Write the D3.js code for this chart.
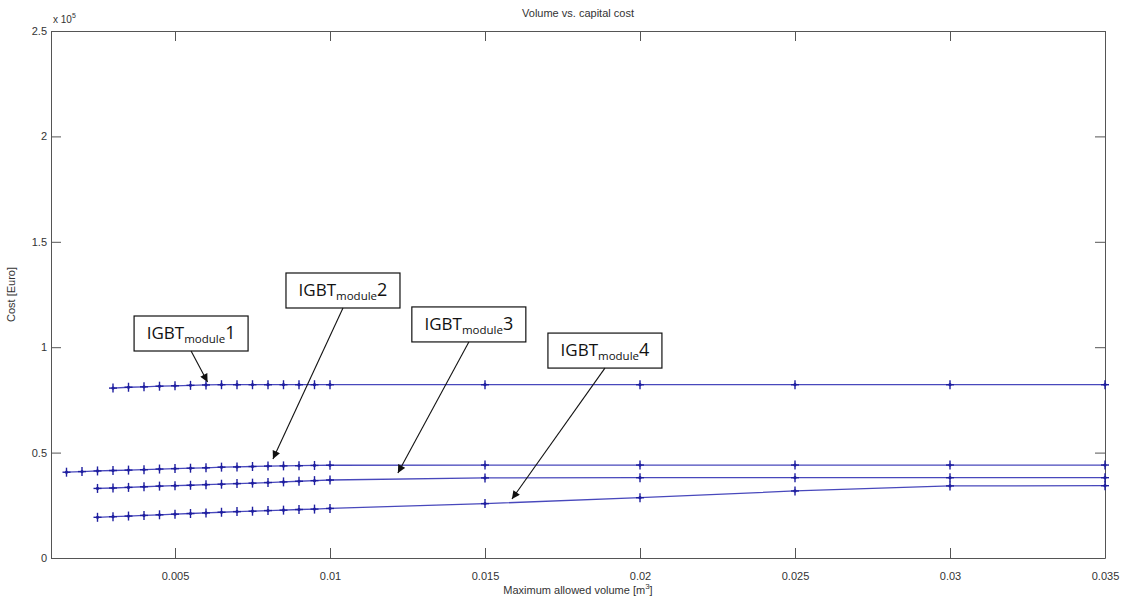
<!DOCTYPE html>
<html>
<head>
<meta charset="utf-8">
<script src="https://cdn.jsdelivr.net/npm/d3@7"></script>
<style>
  body { margin: 0; background: #fff; }
  svg { display: block; }
  .axis text { font-family: "Liberation Sans", Arial, sans-serif; font-size: 11px; fill: #333; }
  .axis path, .axis line { stroke: #555; }
</style>
</head>
<body>
<div id="chart"></div>
<script>
// volumes [m^3]
var volIGBT1 = [0.003,0.0035,0.004,0.0045,0.005,0.0055,0.006,0.0065,0.007,0.0075,0.008,0.0085,0.009,0.0095,0.01,0.015,0.02,0.025,0.03,0.035];
var volIGBT2 = [0.0015,0.002,0.0025,0.003,0.0035,0.004,0.0045,0.005,0.0055,0.006,0.0065,0.007,0.0075,0.008,0.0085,0.009,0.0095,0.01,0.015,0.02,0.025,0.03,0.035];
var volIGBT3 = [0.0025,0.003,0.0035,0.004,0.0045,0.005,0.0055,0.006,0.0065,0.007,0.0075,0.008,0.0085,0.009,0.0095,0.01,0.015,0.02,0.025,0.03,0.035];
var volIGBT4 = [0.0025,0.003,0.0035,0.004,0.0045,0.005,0.0055,0.006,0.0065,0.007,0.0075,0.008,0.0085,0.009,0.0095,0.01,0.015,0.02,0.025,0.03,0.035];

// cost [Euro]
var costIGBT1 = [80600,81000,81200,81500,81700,81900,82100,82200,82200,82200,82200,82200,82200,82200,82200,82200,82200,82200,82200,82200];
var costIGBT2 = [40700,41000,41300,41500,41700,41900,42200,42400,42600,42800,43100,43200,43400,43600,43700,43800,43900,44000,44100,44100,44100,44100,44100];
var costIGBT3 = [33000,33200,33500,33800,34100,34300,34500,34800,35000,35300,35500,35800,36100,36400,36700,37000,38000,38100,38100,38100,38100];
var costIGBT4 = [19300,19600,19900,20200,20500,20800,21100,21400,21700,22000,22200,22500,22700,23000,23200,23500,25800,28600,31800,34200,34300];

// annotation: [label number, box left (vol), box top (cost), arrow tip (vol), arrow tip (cost)]
var notes = [
  ["1", 0.00368, 114800, 0.00605, 83500],
  ["2", 0.00858, 135200, 0.00816, 47000],
  ["3", 0.01264, 119100, 0.01219, 40300],
  ["4", 0.01703, 106700, 0.01587, 28000]
];

var yTicks = [0, 50000, 100000, 150000, 200000, 250000];
var xTicks = [0.005, 0.01, 0.015, 0.02, 0.025, 0.03, 0.035];

var width = 1122, height = 601;
var margin = {top: 31, right: 17, bottom: 43, left: 51};

var svg = d3.select("#chart").append("svg")
  .attr("width", width).attr("height", height);

var x = d3.scaleLinear().domain([0.001, 0.035]).range([margin.left, width - margin.right]);
var y = d3.scaleLinear().domain([0, 250000]).range([height - margin.bottom, margin.top]);

var tickLen = 10;

// axes: box with inward ticks
svg.append("g").attr("class", "axis")
  .attr("transform", "translate(0," + y(0) + ")")
  .call(d3.axisBottom(x).tickValues(xTicks).tickSizeInner(-tickLen).tickSizeOuter(0).tickPadding(14)
    .tickFormat(function(d){ return String(+d.toFixed(4)); }));
svg.append("g").attr("class", "axis")
  .attr("transform", "translate(0," + y(250000) + ")")
  .call(d3.axisTop(x).tickValues(xTicks).tickSizeInner(-tickLen).tickSizeOuter(0).tickFormat(""));
svg.append("g").attr("class", "axis")
  .attr("transform", "translate(" + x(0.001) + ",0)")
  .call(d3.axisLeft(y).tickValues(yTicks).tickSizeInner(-tickLen).tickSizeOuter(0).tickPadding(4)
    .tickFormat(function(d){ return String(d / 100000); }));
svg.append("g").attr("class", "axis")
  .attr("transform", "translate(" + x(0.035) + ",0)")
  .call(d3.axisRight(y).tickValues(yTicks).tickSizeInner(-tickLen).tickSizeOuter(0).tickFormat(""));

svg.selectAll(".axis text").filter(function(){ return this.textContent === ""; }).remove();

// exponent label
var ex = svg.append("text")
  .attr("x", x(0.001) + 2).attr("y", margin.top - 8)
  .attr("font-family", "Liberation Sans, Arial, sans-serif").attr("font-size", "10px").attr("fill", "#333")
  .text("x 10");
ex.append("tspan").attr("dy", -5).attr("font-size", "7px").text("5");

// title
svg.append("text")
  .attr("x", (x(0.001) + x(0.035)) / 2).attr("y", 17)
  .attr("text-anchor", "middle")
  .attr("font-family", "Liberation Sans, Arial, sans-serif").attr("font-size", "11px").attr("fill", "#333")
  .text("Volume vs. capital cost");

// axis labels
var xl = svg.append("text")
  .attr("x", (x(0.001) + x(0.035)) / 2).attr("y", 594)
  .attr("text-anchor", "middle")
  .attr("font-family", "Liberation Sans, Arial, sans-serif").attr("font-size", "11px").attr("fill", "#333")
  .text("Maximum allowed volume [m");
xl.append("tspan").attr("dy", -5).attr("font-size", "8px").text("3");
xl.append("tspan").attr("dy", 5).text("]");

svg.append("text")
  .attr("transform", "translate(15," + ((y(0) + y(250000)) / 2) + ") rotate(-90)")
  .attr("text-anchor", "middle")
  .attr("font-family", "Liberation Sans, Arial, sans-serif").attr("font-size", "11px").attr("fill", "#333")
  .text("Cost [Euro]");

// series
var allSeries = [
  d3.zip(volIGBT1, costIGBT1),
  d3.zip(volIGBT2, costIGBT2),
  d3.zip(volIGBT3, costIGBT3),
  d3.zip(volIGBT4, costIGBT4)
];

var line = d3.line().x(function(d){ return x(d[0]); }).y(function(d){ return y(d[1]); });

allSeries.forEach(function(s) {
  svg.append("path").datum(s)
    .attr("fill", "none").attr("stroke", "#4848bc").attr("stroke-width", 1.3)
    .attr("d", line);

  var m = svg.append("g").selectAll("g").data(s).enter().append("g")
    .attr("transform", function(d){ return "translate(" + x(d[0]) + "," + y(d[1]) + ")"; })
    .attr("stroke", "#1f1fa0").attr("stroke-width", 1.4);
  m.append("line").attr("x1", -4).attr("x2", 4).attr("y1", 0).attr("y2", 0);
  m.append("line").attr("x1", 0).attr("x2", 0).attr("y1", -4.5).attr("y2", 4.5);
  m.append("circle").attr("r", 1.6).attr("fill", "#1f1fa0").attr("stroke", "none");
});

// annotations
svg.append("defs").append("marker")
  .attr("id", "arr").attr("viewBox", "0 0 10 10").attr("refX", 10).attr("refY", 5)
  .attr("markerWidth", 9).attr("markerHeight", 8).attr("markerUnits", "userSpaceOnUse")
  .attr("orient", "auto")
  .append("path").attr("d", "M0,0 L10,5 L0,10 z").attr("fill", "#111");

var boxW = 114, boxH = 35;
notes.forEach(function(n) {
  var g = svg.append("g");
  var bx = x(n[1]), by = y(n[2]);
  g.append("rect")
    .attr("x", bx).attr("y", by).attr("width", boxW).attr("height", boxH)
    .attr("fill", "#fff").attr("stroke", "#111").attr("stroke-width", 1.2);
  var t = g.append("text")
    .attr("x", bx + boxW / 2).attr("y", by + 23)
    .attr("text-anchor", "middle")
    .attr("font-family", "Open Sans, Noto Sans, sans-serif").attr("font-size", "17px").attr("fill", "#111");
  t.append("tspan").text("IGBT");
  t.append("tspan").attr("dy", 4).attr("font-size", "11.5px").text("module");
  t.append("tspan").attr("dy", -4).attr("font-size", "18px").text(n[0]);
  g.append("line")
    .attr("x1", bx + boxW / 2).attr("y1", by + boxH).attr("x2", x(n[3])).attr("y2", y(n[4]))
    .attr("stroke", "#111").attr("stroke-width", 1.1)
    .attr("marker-end", "url(#arr)");
});
</script>
</body>
</html>
